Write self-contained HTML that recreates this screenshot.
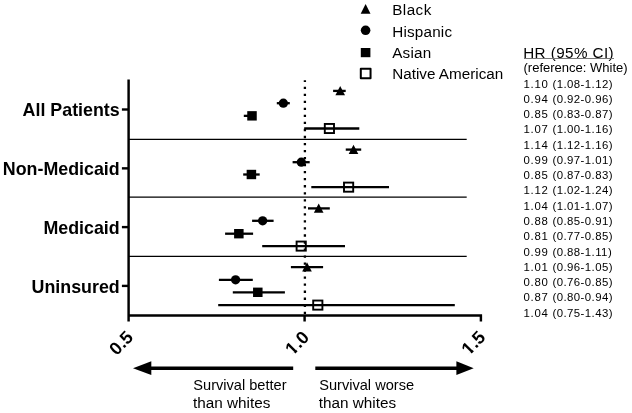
<!DOCTYPE html><html><head><meta charset="utf-8"><title>Forest plot</title><style>html,body{margin:0;padding:0;background:#fff}svg{display:block}text{font-family:"Liberation Sans",sans-serif;fill:#000}</style></head><body>
<svg width="632" height="413" viewBox="0 0 632 413">
<rect width="632" height="413" fill="#fff"/>
<line x1="128.5" y1="139.35" x2="466.7" y2="139.35" stroke="#000" stroke-width="1.25"/>
<line x1="128.5" y1="197.0" x2="466.7" y2="197.0" stroke="#000" stroke-width="1.25"/>
<line x1="128.5" y1="256.3" x2="466.7" y2="256.3" stroke="#000" stroke-width="1.25"/>
<line x1="304.9" y1="80.2" x2="304.9" y2="315" stroke="#000" stroke-width="2.3" stroke-dasharray="2.3 4.733" stroke-dashoffset="0.6"/>
<path d="M128.6 79.5V321.5M127.4 315.45H482.1M304.6 315.5V321.5M480.9 315.5V321.5" stroke="#000" stroke-width="2.45" fill="none"/>
<line x1="121.9" y1="109.5" x2="128.5" y2="109.5" stroke="#000" stroke-width="2.4"/>
<text transform="translate(119.7 116.10) scale(1.02 1)" font-size="17.5" font-weight="bold" text-anchor="end">All Patients</text>
<line x1="121.9" y1="168.35" x2="128.5" y2="168.35" stroke="#000" stroke-width="2.4"/>
<text transform="translate(119.7 174.95) scale(1.02 1)" font-size="17.5" font-weight="bold" text-anchor="end">Non-Medicaid</text>
<line x1="121.9" y1="227.1" x2="128.5" y2="227.1" stroke="#000" stroke-width="2.4"/>
<text transform="translate(119.7 233.70) scale(1.02 1)" font-size="17.5" font-weight="bold" text-anchor="end">Medicaid</text>
<line x1="121.9" y1="285.9" x2="128.5" y2="285.9" stroke="#000" stroke-width="2.4"/>
<text transform="translate(119.7 292.50) scale(1.02 1)" font-size="17.5" font-weight="bold" text-anchor="end">Uninsured</text>
<defs><clipPath id="nf"><path d="M-26.02 -16H1V-2.11H-18.09V1H-21.08V-2.11H-26.02Z"/></clipPath></defs>
<g transform="translate(134.1 338.3) rotate(-46)" font-size="18" font-weight="bold"><text x="-25.02" y="0">0.5</text></g>
<g transform="translate(310.1 338.3) rotate(-46)" font-size="18" font-weight="bold"><text x="-25.02" y="0" clip-path="url(#nf)">1</text><text x="-15.01" y="0">.0</text></g>
<g transform="translate(486.4 338.3) rotate(-46)" font-size="18" font-weight="bold"><text x="-25.02" y="0" clip-path="url(#nf)">1</text><text x="-15.01" y="0">.5</text></g>
<line x1="333.10" y1="90.90" x2="345.70" y2="90.90" stroke="#000" stroke-width="2.3"/>
<path d="M340.20 86.00L345.00 95.20H335.40Z" fill="#000"/>
<line x1="276.80" y1="103.20" x2="289.80" y2="103.20" stroke="#000" stroke-width="2.3"/>
<circle cx="283.35" cy="103.20" r="4.65" fill="#000"/>
<line x1="243.80" y1="115.85" x2="256.00" y2="115.85" stroke="#000" stroke-width="2.3"/>
<rect x="247.25" y="111.15" width="9.5" height="9.4" fill="#000"/>
<line x1="304.20" y1="128.50" x2="359.30" y2="128.50" stroke="#000" stroke-width="2.3"/>
<rect x="324.80" y="123.95" width="9.2" height="9.1" fill="none" stroke="#000" stroke-width="1.9"/>
<line x1="345.75" y1="149.60" x2="361.20" y2="149.60" stroke="#000" stroke-width="2.3"/>
<path d="M353.50 144.70L358.30 153.90H348.70Z" fill="#000"/>
<line x1="292.60" y1="162.20" x2="309.70" y2="162.20" stroke="#000" stroke-width="2.3"/>
<circle cx="301.30" cy="162.20" r="4.65" fill="#000"/>
<line x1="243.20" y1="174.50" x2="259.70" y2="174.50" stroke="#000" stroke-width="2.3"/>
<rect x="246.65" y="169.80" width="9.5" height="9.4" fill="#000"/>
<line x1="311.30" y1="187.15" x2="389.00" y2="187.15" stroke="#000" stroke-width="2.3"/>
<rect x="344.00" y="182.60" width="9.2" height="9.1" fill="none" stroke="#000" stroke-width="1.9"/>
<line x1="308.00" y1="208.40" x2="329.80" y2="208.40" stroke="#000" stroke-width="2.3"/>
<path d="M318.70 203.50L323.50 212.70H313.90Z" fill="#000"/>
<line x1="252.10" y1="220.80" x2="273.60" y2="220.80" stroke="#000" stroke-width="2.3"/>
<circle cx="262.65" cy="220.80" r="4.65" fill="#000"/>
<line x1="225.10" y1="233.70" x2="253.10" y2="233.70" stroke="#000" stroke-width="2.3"/>
<rect x="234.10" y="229.00" width="9.5" height="9.4" fill="#000"/>
<line x1="262.20" y1="246.10" x2="345.00" y2="246.10" stroke="#000" stroke-width="2.3"/>
<rect x="296.60" y="241.55" width="9.2" height="9.1" fill="none" stroke="#000" stroke-width="1.9"/>
<line x1="290.90" y1="267.10" x2="323.10" y2="267.10" stroke="#000" stroke-width="2.3"/>
<path d="M307.00 262.20L311.80 271.40H302.20Z" fill="#000"/>
<line x1="218.90" y1="279.80" x2="252.80" y2="279.80" stroke="#000" stroke-width="2.3"/>
<circle cx="235.60" cy="279.80" r="4.65" fill="#000"/>
<line x1="232.80" y1="292.30" x2="284.90" y2="292.30" stroke="#000" stroke-width="2.3"/>
<rect x="253.05" y="287.60" width="9.5" height="9.4" fill="#000"/>
<line x1="218.20" y1="305.10" x2="454.80" y2="305.10" stroke="#000" stroke-width="2.3"/>
<rect x="313.20" y="300.55" width="9.2" height="9.1" fill="none" stroke="#000" stroke-width="1.9"/>
<path d="M365.6 4.1L370.5 13.7H360.70000000000005Z" fill="#000"/>
<circle cx="365.6" cy="30.3" r="4.8" fill="#000"/>
<rect x="360.8" y="48" width="9.6" height="9.2" fill="#000"/>
<rect x="360.8" y="68.8" width="9.75" height="9.45" fill="none" stroke="#000" stroke-width="2" stroke-linejoin="round"/>
<text x="392.2" y="14.7" font-size="15.25" letter-spacing="0.45">Black</text>
<text x="392.2" y="36.6" font-size="15.25" letter-spacing="0.2">Hispanic</text>
<text x="392.2" y="58.3" font-size="15.25" letter-spacing="0.2">Asian</text>
<text x="392.2" y="79.45" font-size="15.25" letter-spacing="0">Native American</text>
<text x="523.2" y="58.2" font-size="15.2" letter-spacing="0.44">HR (95% CI)</text>
<line x1="524" y1="58.5" x2="614" y2="58.5" stroke="#777" stroke-width="1"/>
<text x="523.5" y="72" font-size="13" textLength="104.2" lengthAdjust="spacingAndGlyphs">(reference: White)</text>
<text y="87.60" font-size="11.4"><tspan x="523.5" letter-spacing="0.7">1.10 </tspan><tspan x="552.5" letter-spacing="0.43">(1.08-1.12)</tspan></text>
<text y="102.87" font-size="11.4"><tspan x="523.5" letter-spacing="0.7">0.94 </tspan><tspan x="552.5" letter-spacing="0.43">(0.92-0.96)</tspan></text>
<text y="118.14" font-size="11.4"><tspan x="523.5" letter-spacing="0.7">0.85 </tspan><tspan x="552.5" letter-spacing="0.43">(0.83-0.87)</tspan></text>
<text y="133.41" font-size="11.4"><tspan x="523.5" letter-spacing="0.7">1.07 </tspan><tspan x="552.5" letter-spacing="0.43">(1.00-1.16)</tspan></text>
<text y="148.68" font-size="11.4"><tspan x="523.5" letter-spacing="0.7">1.14 </tspan><tspan x="552.5" letter-spacing="0.43">(1.12-1.16)</tspan></text>
<text y="163.95" font-size="11.4"><tspan x="523.5" letter-spacing="0.7">0.99 </tspan><tspan x="552.5" letter-spacing="0.43">(0.97-1.01)</tspan></text>
<text y="179.22" font-size="11.4"><tspan x="523.5" letter-spacing="0.7">0.85 </tspan><tspan x="552.5" letter-spacing="0.43">(0.87-0.83)</tspan></text>
<text y="194.49" font-size="11.4"><tspan x="523.5" letter-spacing="0.7">1.12 </tspan><tspan x="552.5" letter-spacing="0.43">(1.02-1.24)</tspan></text>
<text y="209.76" font-size="11.4"><tspan x="523.5" letter-spacing="0.7">1.04 </tspan><tspan x="552.5" letter-spacing="0.43">(1.01-1.07)</tspan></text>
<text y="225.03" font-size="11.4"><tspan x="523.5" letter-spacing="0.7">0.88 </tspan><tspan x="552.5" letter-spacing="0.43">(0.85-0.91)</tspan></text>
<text y="240.30" font-size="11.4"><tspan x="523.5" letter-spacing="0.7">0.81 </tspan><tspan x="552.5" letter-spacing="0.43">(0.77-0.85)</tspan></text>
<text y="255.57" font-size="11.4"><tspan x="523.5" letter-spacing="0.7">0.99 </tspan><tspan x="552.5" letter-spacing="0.43">(0.88-1.11)</tspan></text>
<text y="270.84" font-size="11.4"><tspan x="523.5" letter-spacing="0.7">1.01 </tspan><tspan x="552.5" letter-spacing="0.43">(0.96-1.05)</tspan></text>
<text y="286.11" font-size="11.4"><tspan x="523.5" letter-spacing="0.7">0.80 </tspan><tspan x="552.5" letter-spacing="0.43">(0.76-0.85)</tspan></text>
<text y="301.38" font-size="11.4"><tspan x="523.5" letter-spacing="0.7">0.87 </tspan><tspan x="552.5" letter-spacing="0.43">(0.80-0.94)</tspan></text>
<text y="316.65" font-size="11.4"><tspan x="523.5" letter-spacing="0.7">1.04 </tspan><tspan x="552.5" letter-spacing="0.43">(0.75-1.43)</tspan></text>
<path d="M151 368.2H293.2M315.3 368.2H457" stroke="#000" stroke-width="3.5" fill="none"/>
<path d="M133 368.2L151.3 361.3V375.1Z" fill="#000"/>
<path d="M473.7 368.2L456.4 361.3V375.1Z" fill="#000"/>
<text x="193.3" y="389.65" font-size="14.6">Survival better</text>
<text x="193.0" y="408.4" font-size="15.3">than whites</text>
<text x="319.2" y="389.65" font-size="14.6">Survival worse</text>
<text x="318.8" y="408.4" font-size="15.3">than whites</text>
</svg></body></html>
